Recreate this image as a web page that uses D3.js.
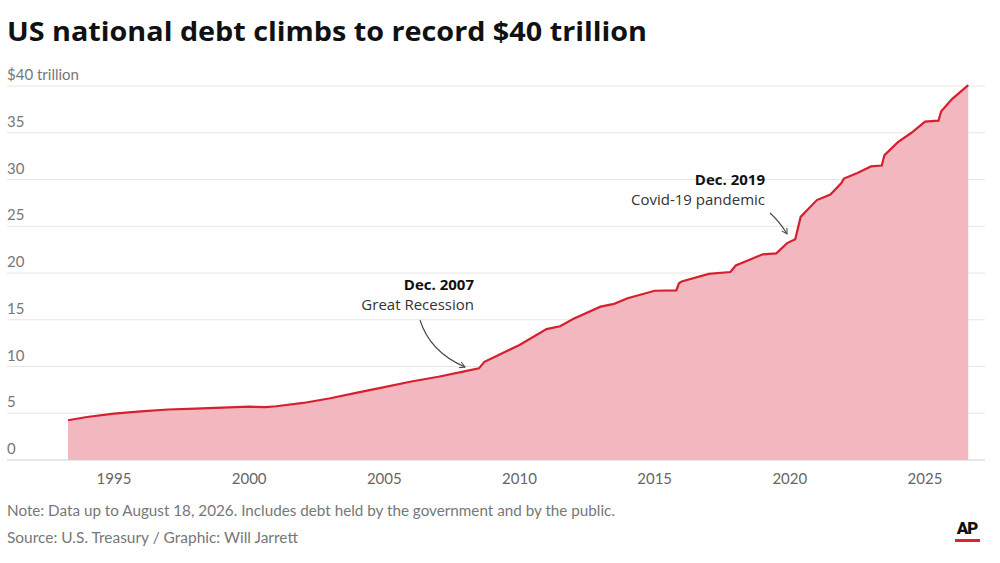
<!DOCTYPE html>
<html><head><meta charset="utf-8">
<script src="https://cdn.jsdelivr.net/npm/d3@7"></script>
<style>body{margin:0;background:#fff}</style>
</head><body>
<svg id="c" width="1000" height="563"></svg>
<script>
var years = [1993.3,1994,1995,1996,1997,1998,1999,2000,2000.6,2001,2002,2003,2004,2005,2006,2007,2008,2008.5,2008.7,2009,2010,2011,2011.5,2012,2013,2013.5,2014,2015,2015.8,2015.9,2016,2017,2017.8,2018,2019,2019.5,2019.9,2020.2,2020.4,2020.7,2021,2021.5,2021.9,2022,2022.5,2023,2023.4,2023.5,2024,2024.5,2025,2025.5,2025.6,2026,2026.6];
var debt  = [4.25,4.6,4.95,5.2,5.4,5.5,5.6,5.7,5.65,5.75,6.1,6.6,7.2,7.8,8.4,8.9,9.5,9.8,10.5,10.9,12.3,14.0,14.3,15.1,16.4,16.7,17.3,18.1,18.15,18.9,19.1,19.9,20.1,20.8,22.0,22.1,23.2,23.6,26.0,26.9,27.8,28.4,29.6,30.1,30.7,31.4,31.5,32.6,34.0,35.0,36.2,36.3,37.3,38.6,40.1];
var yTicks = [0,5,10,15,20,25,30,35,40];
var xTicks = [1995,2000,2005,2010,2015,2020,2025];

var svg = d3.select("#c");
var x = d3.scaleLinear().domain([1995,2025]).range([114,925]);
var y = d3.scaleLinear().domain([0,40]).range([460,86]);

svg.append("text").attr("x",7).attr("y",41).attr("font-family","'Open Sans', sans-serif")
  .attr("font-weight",700).attr("font-size",27).attr("fill","#111")
  .attr("textLength",640).attr("lengthAdjust","spacingAndGlyphs")
  .text("US national debt climbs to record $40 trillion");

svg.selectAll(".g").data(yTicks).join("line").attr("x1",7).attr("x2",985)
  .attr("y1",d=>y(d)).attr("y2",d=>y(d)).attr("stroke",d=>d?"#e6e6e6":"#cfcfcf");
svg.selectAll(".yl").data(yTicks).join("text").attr("x",7).attr("y",d=>y(d)-6)
  .attr("font-family","Lato, sans-serif").attr("font-size",15).attr("fill","#777")
  .text(d=>d==40?"$40 trillion":d);
svg.selectAll(".xl").data(xTicks).join("text").attr("x",d=>x(d)).attr("y",484)
  .attr("text-anchor","middle").attr("font-family","Lato, sans-serif").attr("font-size",15).attr("fill","#666").text(d=>d);

var pts = years.map((t,i)=>[t,debt[i]]);
svg.append("path").datum(pts).attr("fill","#f3b8bf")
  .attr("d",d3.area().x(d=>x(d[0])).y0(y(0)).y1(d=>y(d[1])));
svg.append("path").datum(pts).attr("fill","none").attr("stroke","#d6202f").attr("stroke-width",2.2)
  .attr("d",d3.line().x(d=>x(d[0])).y(d=>y(d[1])));

var defs = svg.append("defs");
defs.append("marker").attr("id","ah").attr("viewBox","0 0 10 10").attr("refX",8).attr("refY",5)
  .attr("markerWidth",7).attr("markerHeight",7).attr("orient","auto")
  .append("path").attr("d","M1,1L8,5L1,9").attr("fill","none").attr("stroke","#444").attr("stroke-width",1.3);

function note(tx,ty,bold,sub,path){
  svg.append("text").attr("x",tx).attr("y",ty).attr("text-anchor","end").attr("font-family","'Open Sans', sans-serif")
    .attr("font-weight",700).attr("font-size",15).attr("fill","#111").text(bold);
  svg.append("text").attr("x",tx).attr("y",ty+20).attr("text-anchor","end").attr("font-family","'Open Sans', sans-serif")
    .attr("font-size",15).attr("fill","#333").text(sub);
  svg.append("path").attr("d",path).attr("fill","none").attr("stroke","#444").attr("stroke-width",1.1).attr("marker-end","url(#ah)");
}
note(474,290,"Dec. 2007","Great Recession","M420,320 Q430,352 465,367");
note(765,185,"Dec. 2019","Covid-19 pandemic","M770,213 Q780,222 787,234");

svg.append("text").attr("x",7).attr("y",516).attr("font-family","Lato, sans-serif").attr("font-size",14.5).attr("fill","#777")
  .attr("textLength",608).attr("lengthAdjust","spacingAndGlyphs")
  .text("Note: Data up to August 18, 2026. Includes debt held by the government and by the public.");
svg.append("text").attr("x",7).attr("y",543).attr("font-family","Lato, sans-serif").attr("font-size",14.5).attr("fill","#777")
  .attr("textLength",291).attr("lengthAdjust","spacingAndGlyphs")
  .text("Source: U.S. Treasury / Graphic: Will Jarrett");
svg.append("text").attr("x",967).attr("y",534).attr("text-anchor","middle").attr("font-family","Roboto, sans-serif")
  .attr("font-weight",900).attr("font-size",17).attr("fill","#111").attr("letter-spacing",-1).text("AP");
svg.append("rect").attr("x",955).attr("y",539).attr("width",25).attr("height",3).attr("fill","#e2202f");
</script>
</body></html>
